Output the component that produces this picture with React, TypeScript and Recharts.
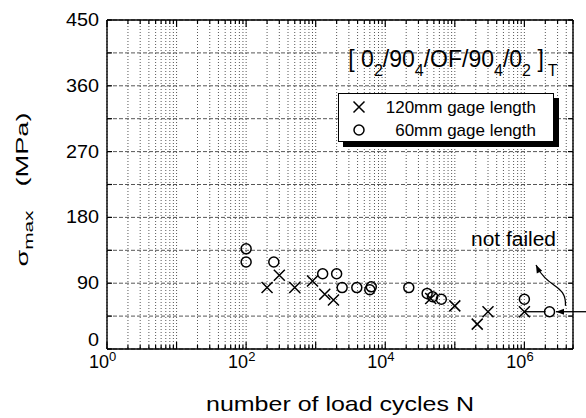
import React from 'react';
import {
  ScatterChart,
  Scatter,
  XAxis,
  YAxis,
  CartesianGrid,
  Legend,
  ReferenceLine,
  ReferenceDot,
} from 'recharts';

const FONT = '"Liberation Sans", Arial, Helvetica, sans-serif';

// 120mm gage length (x marks)
const cycles120 = [200, 300, 500, 900, 1350, 1800, 45000, 100000, 210000, 300000, 1000000];
const stress120 = [84, 101, 84, 93, 75, 67, 69, 59, 34, 51, 51];

// 60mm gage length (open circles)
const cycles60 = [100, 100, 250, 1260, 2000, 2400, 3900, 6300, 6000, 21800, 40000, 48000, 64000, 1000000, 2300000];
const stress60 = [137, 119, 119, 103, 103, 84, 84, 85, 81, 84, 76, 71.5, 68, 68, 51];

const decades = [1, 10, 100, 1000, 10000, 100000, 1000000];
const labelledDecades = [1, 100, 10000, 1000000];
const decadeExponents = ['0', '2', '4', '6'];
const yTicks = [0, 45, 90, 135, 180, 225, 270, 315, 360, 405, 450];
const yTickLabels = [0, 90, 180, 270, 360, 450];

const X_MAX = 5000000;
const xTicks: number[] = [];
decades.forEach((d) => {
  for (let m = 1; m <= 9; m++) {
    if (m * d <= X_MAX) xTicks.push(m * d);
  }
});

const data120 = cycles120.map((n, i) => ({ n, s: stress120[i] }));
const data60 = cycles60.map((n, i) => ({ n, s: stress60[i] }));

const XMark = (props: any) => {
  const { cx, cy } = props;
  const h = 5.5;
  return (
    <path
      d={`M${cx - h},${cy - h}L${cx + h},${cy + h}M${cx - h},${cy + h}L${cx + h},${cy - h}`}
      stroke="#000"
      strokeWidth={1.5}
      fill="none"
    />
  );
};

const OMark = (props: any) => {
  const { cx, cy } = props;
  return <circle cx={cx} cy={cy} r={5} stroke="#000" strokeWidth={1.5} fill="none" />;
};

const BottomTick = (props: any) => {
  const { x, y, payload } = props;
  const v = payload.value;
  const major = decades.includes(v);
  const idx = labelledDecades.indexOf(v);
  return (
    <g>
      <line x1={x} y1={y} x2={x} y2={y - (major ? 7 : 4)} stroke="#000" strokeWidth={1.2} />
      {idx >= 0 && (
        <g fontFamily={FONT} fill="#000">
          <text x={x + 2} y={y + 19} textAnchor="end" fontSize={18}>
            10
          </text>
          <text x={x + 2} y={y + 12} fontSize={13}>
            {decadeExponents[idx]}
          </text>
        </g>
      )}
    </g>
  );
};

const TopTick = (props: any) => {
  const { x, y, payload } = props;
  const major = decades.includes(payload.value);
  return <line x1={x} y1={y} x2={x} y2={y + (major ? 7 : 4)} stroke="#000" strokeWidth={1.2} />;
};

const LeftTick = (props: any) => {
  const { x, y, payload } = props;
  const show = yTickLabels.includes(payload.value);
  const base = payload.value === 0 ? y - 3 : y + 6;
  return (
    <g>
      <line x1={x} y1={y} x2={x + 5} y2={y} stroke="#000" strokeWidth={1.2} />
      {show && (
        <text
          transform={`translate(${x - 8},${base}) scale(1.1,1)`}
          textAnchor="end"
          fontSize={18}
          fontFamily={FONT}
          fill="#000"
        >
          {payload.value}
        </text>
      )}
    </g>
  );
};

const RightTick = (props: any) => {
  const { x, y } = props;
  return <line x1={x} y1={y} x2={x - 5} y2={y} stroke="#000" strokeWidth={1.2} />;
};

const XLabel = (props: any) => {
  const { x, width, y } = props.viewBox;
  return (
    <text
      x={x + width / 2}
      y={y + 62}
      textAnchor="middle"
      fontSize={21}
      fontFamily={FONT}
      textLength={268}
      lengthAdjust="spacingAndGlyphs"
      fill="#000"
    >
      number of load cycles N
    </text>
  );
};

const YLabel = (props: any) => {
  const { x, width, y, height } = props.viewBox;
  const cx = x + width - 79;
  const cy = y + height / 2 + 5;
  return (
    <text
      transform={`translate(${cx},${cy}) rotate(-90) scale(1.6,1)`}
      textAnchor="middle"
      fontSize={17}
      fontFamily={FONT}
      fill="#000"
    >
      <tspan>σ</tspan>
      <tspan fontSize={13} dy={5}>max</tspan>
      <tspan dy={-5} dx={15}>(MPa)</tspan>
    </text>
  );
};

const TitleShape = (props: any) => {
  const { cx, cy } = props;
  return (
    <text x={cx} y={cy} textAnchor="end" fontSize={23} fontFamily={FONT} fill="#000">
      <tspan>[ 0</tspan>
      <tspan fontSize={16} dy={9}>2</tspan>
      <tspan dy={-9}>/90</tspan>
      <tspan fontSize={16} dy={9}>4</tspan>
      <tspan dy={-9}>/OF/90</tspan>
      <tspan fontSize={16} dy={9}>4</tspan>
      <tspan dy={-9}>/0</tspan>
      <tspan fontSize={16} dy={9}>2</tspan>
      <tspan dy={-9}> ]</tspan>
      <tspan fontSize={16} dy={9} dx={4}>T</tspan>
    </text>
  );
};

const NoteShape = (props: any) => {
  const { cx, cy } = props;
  return (
    <text
      x={cx}
      y={cy}
      textAnchor="end"
      fontSize={20}
      fontFamily={FONT}
      textLength={85}
      lengthAdjust="spacingAndGlyphs"
      fill="#000"
    >
      not failed
    </text>
  );
};

const arrowHead = (tx: number, ty: number, fx: number, fy: number) => {
  const ang = Math.atan2(ty - fy, tx - fx);
  const len = 8;
  const w = 3;
  const bx = tx - len * Math.cos(ang);
  const by = ty - len * Math.sin(ang);
  const px = -Math.sin(ang) * w;
  const py = Math.cos(ang) * w;
  return `M${tx},${ty}L${bx + px},${by + py}L${bx - px},${by - py}Z`;
};

const StraightArrow = (props: any) => {
  const { x1, y1, x2, y2 } = props;
  return (
    <g>
      <line x1={x1} y1={y1} x2={x2} y2={y2} stroke="#000" strokeWidth={1.3} />
      <path d={arrowHead(x2, y2, x1, y1)} fill="#000" />
    </g>
  );
};

const CurvedArrow = (props: any) => {
  const { x1, y1, x2, y2 } = props;
  const dx = x2 - x1;
  const dy = y2 - y1;
  const c1x = x1 - 0.03 * dx;
  const c1y = y1 + 0.55 * dy;
  const c2x = x1 + 0.6 * dx;
  const c2y = y1 + 0.4 * dy;
  return (
    <g>
      <path
        d={`M${x1},${y1}C${c1x},${c1y} ${c2x},${c2y} ${x2},${y2}`}
        stroke="#000"
        strokeWidth={1.3}
        fill="none"
      />
      <path d={arrowHead(x2, y2, c2x, c2y)} fill="#000" />
    </g>
  );
};

const LegendBox = () => (
  <div
    style={{
      width: 216,
      height: 49,
      boxSizing: 'border-box',
      border: '1.3px solid #000',
      background: '#fff',
      boxShadow: '5px 5px 0 #000',
    }}
  >
    <svg width={214} height={47} style={{ display: 'block' }}>
      <XMark cx={20} cy={13} />
      <OMark cx={20} cy={36} />
      <text x={197} y={19} textAnchor="end" fontSize={17} fontFamily={FONT} fill="#000">
        120mm gage length
      </text>
      <text x={197} y={42} textAnchor="end" fontSize={17} fontFamily={FONT} fill="#000">
        60mm gage length
      </text>
    </svg>
  </div>
);

export default function App() {
  return (
    <div style={{ position: 'absolute', left: 0, top: 0, background: '#fff' }}>
      <ScatterChart width={586} height={418} margin={{ top: 19, right: 12, bottom: 19, left: 47 }}>
        <CartesianGrid vertical={false} stroke="#444" strokeDasharray="4 2" strokeWidth={0.9} />
        <CartesianGrid horizontal={false} stroke="#444" strokeDasharray="1 2" strokeWidth={0.9} />
        <XAxis
          dataKey="n"
          type="number"
          scale="log"
          domain={[1, X_MAX]}
          allowDataOverflow
          ticks={xTicks}
          interval={0}
          tickSize={0}
          tickMargin={0}
          height={50}
          axisLine={{ stroke: '#000', strokeWidth: 1.4 }}
          tick={<BottomTick />}
          label={(p: any) => <XLabel viewBox={p.viewBox} />}
        />
        <XAxis
          xAxisId="top"
          orientation="top"
          dataKey="n"
          type="number"
          scale="log"
          domain={[1, X_MAX]}
          allowDataOverflow
          ticks={xTicks}
          interval={0}
          tickSize={0}
          tickMargin={0}
          height={1}
          axisLine={{ stroke: '#000', strokeWidth: 1.4 }}
          tick={<TopTick />}
        />
        <YAxis
          dataKey="s"
          type="number"
          domain={[0, 450]}
          allowDataOverflow
          ticks={yTicks}
          interval={0}
          tickSize={0}
          tickMargin={0}
          width={60}
          axisLine={{ stroke: '#000', strokeWidth: 1.4 }}
          tick={<LeftTick />}
          label={(p: any) => <YLabel viewBox={p.viewBox} />}
        />
        <YAxis
          yAxisId="right"
          orientation="right"
          dataKey="s"
          type="number"
          domain={[0, 450]}
          allowDataOverflow
          ticks={yTicks}
          interval={0}
          tickSize={0}
          tickMargin={0}
          width={1}
          axisLine={{ stroke: '#000', strokeWidth: 1.4 }}
          tick={<RightTick />}
        />
        <Legend
          verticalAlign="middle"
          align="center"
          layout="horizontal"
          content={() => <LegendBox />}
          wrapperStyle={{ position: 'absolute', left: 338, top: 93, width: 216, height: 49 }}
        />
        <ReferenceLine
          segment={[{ x: 1000000, y: 51 }, { x: 1950000, y: 51 }]}
          stroke="#000"
          strokeWidth={1.3}
        />
        <ReferenceLine
          segment={[{ x: 8000000, y: 51 }, { x: 2850000, y: 51 }]}
          ifOverflow="visible"
          shape={<StraightArrow />}
        />
        <ReferenceLine
          segment={[{ x: 3900000, y: 59 }, { x: 1470000, y: 115 }]}
          shape={<CurvedArrow />}
        />
        <ReferenceDot x={3000000} y={386} r={0} shape={<TitleShape />} />
        <ReferenceDot x={2850000} y={141} r={0} shape={<NoteShape />} />
        <Scatter data={data120} shape={<XMark />} isAnimationActive={false} />
        <Scatter data={data60} shape={<OMark />} isAnimationActive={false} />
      </ScatterChart>
    </div>
  );
}
